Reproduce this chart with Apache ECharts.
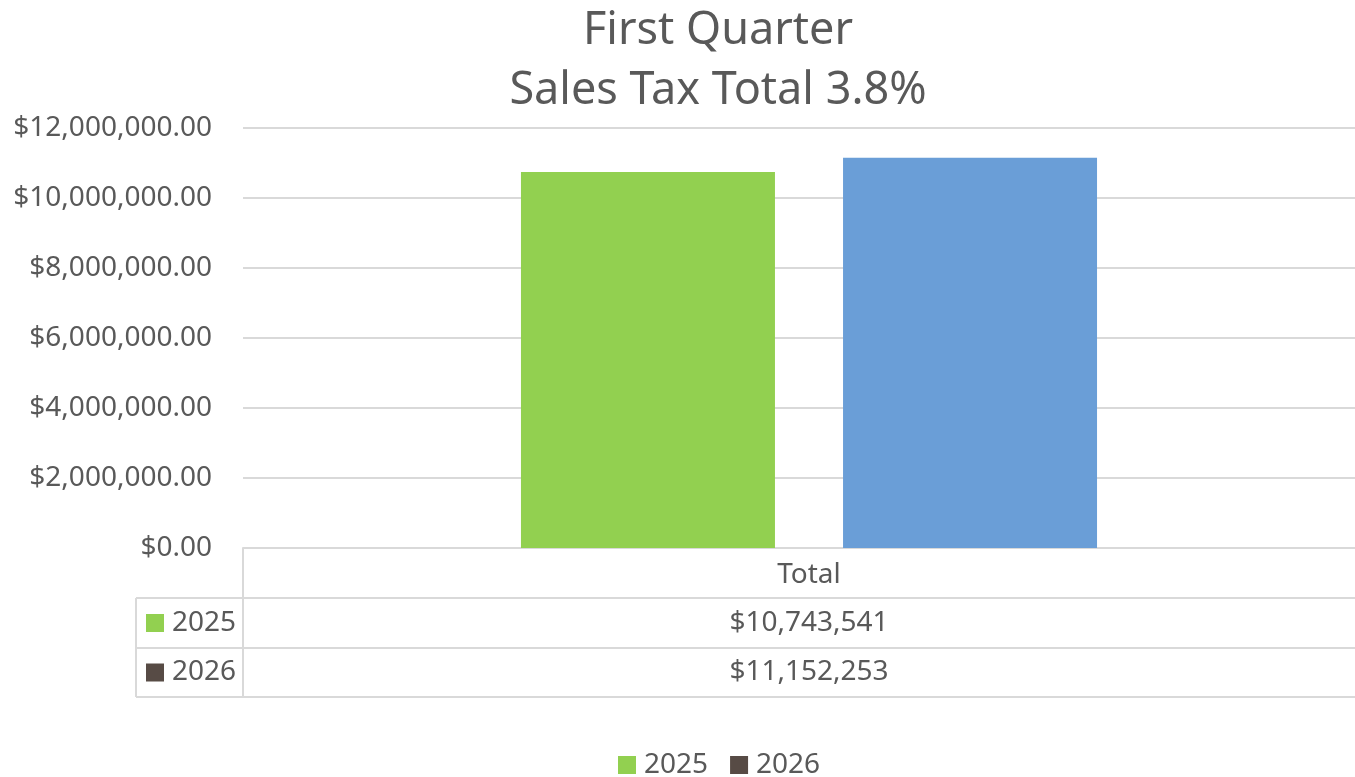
<!DOCTYPE html>
<html>
<head>
<meta charset="utf-8">
<script src="https://cdn.jsdelivr.net/npm/echarts@6/dist/echarts.min.js"></script>
<style>
  html, body { margin: 0; padding: 0; background: #fff; }
  #main { width: 1355px; height: 777px; }
</style>
</head>
<body>
<div id="main"></div>
<script>
var categories = ['Total'];
var seriesNames = ['2025', '2026'];
var values2025 = [10743541];
var values2026 = [11152253];
var yTicks = [0, 2000000, 4000000, 6000000, 8000000, 10000000, 12000000];

var FONT = 'Noto Sans';
var TEXT = '#595959';
var LINE = '#D9D9D9';
var GREEN = '#92D050';
var BLUE = '#6A9ED7';
var DARK = '#574B45';

function money(v, dec) {
  return '$' + v.toLocaleString('en-US', { minimumFractionDigits: dec, maximumFractionDigits: dec });
}

var chart = echarts.init(document.getElementById('main'));

var option = {
  animation: false,
  title: {
    text: 'First Quarter\nSales Tax Total 3.8%',
    left: 713,
    top: -4,
    textAlign: 'center',
    textStyle: { fontFamily: FONT, fontSize: 45, fontWeight: 'normal', color: TEXT, lineHeight: 60 }
  },
  legend: {
    data: seriesNames,
    top: 746,
    left: 613,
    icon: 'rect',
    itemWidth: 18,
    itemHeight: 18,
    itemGap: 22,
    textStyle: { fontFamily: FONT, fontSize: 28, color: TEXT, padding: [0, 0, 0, 3] }
  },
  // plot area runs past the right edge of the canvas, as in the source
  grid: { left: 243, right: -20, top: 128, bottom: 229, outerBoundsMode: 'none' },
  xAxis: {
    type: 'category',
    data: categories,
    axisLine: { lineStyle: { color: LINE, width: 2 } },
    axisTick: { show: false },
    axisLabel: { margin: 13, fontFamily: FONT, fontSize: 28, color: TEXT }
  },
  yAxis: {
    type: 'value',
    min: yTicks[0],
    max: yTicks[yTicks.length - 1],
    interval: yTicks[1] - yTicks[0],
    axisLabel: {
      margin: 31, fontFamily: FONT, fontSize: 28, color: TEXT,
      formatter: function (v) { return money(v, 2); }
    },
    splitLine: { lineStyle: { color: LINE, width: 2 } }
  },
  series: [
    {
      name: seriesNames[0],
      type: 'bar',
      barWidth: 254,
      barGap: '26.8%',
      itemStyle: { color: GREEN },
      data: values2025
    },
    {
      name: seriesNames[1],
      type: 'bar',
      barWidth: 254,
      itemStyle: { color: DARK },
      data: values2026.map(function (v) { return { value: v, itemStyle: { color: BLUE } }; })
    }
  ]
};

chart.setOption(option);

// data table below the axis
var cx = chart.convertToPixel({ xAxisIndex: 0 }, categories[0]);
var rowTop = [598, 648, 697];
var left = 136, split = 243, right = 1355;
var rows = [
  { name: seriesNames[0], color: GREEN, value: values2025[0] },
  { name: seriesNames[1], color: DARK, value: values2026[0] }
];
var g = [];
rowTop.forEach(function (y) {
  g.push({ type: 'line', shape: { x1: left, y1: y, x2: right, y2: y }, style: { stroke: LINE, lineWidth: 2 } });
});
g.push({ type: 'line', shape: { x1: left, y1: rowTop[0], x2: left, y2: rowTop[2] }, style: { stroke: LINE, lineWidth: 2 } });
g.push({ type: 'line', shape: { x1: split, y1: 548, x2: split, y2: rowTop[2] }, style: { stroke: LINE, lineWidth: 2 } });
rows.forEach(function (r, i) {
  var mid = (rowTop[i] + rowTop[i + 1]) / 2;
  g.push({ type: 'rect', shape: { x: 146, y: mid - 9, width: 18, height: 18 }, style: { fill: r.color } });
  g.push({ type: 'text', x: 172, y: mid, style: { text: r.name, fontFamily: FONT, fontSize: 28, fill: TEXT, verticalAlign: 'middle' } });
  g.push({ type: 'text', x: cx, y: mid, style: { text: money(r.value, 0), fontFamily: FONT, fontSize: 28, fill: TEXT, align: 'center', verticalAlign: 'middle' } });
});
chart.setOption({ graphic: g });
</script>
</body>
</html>
